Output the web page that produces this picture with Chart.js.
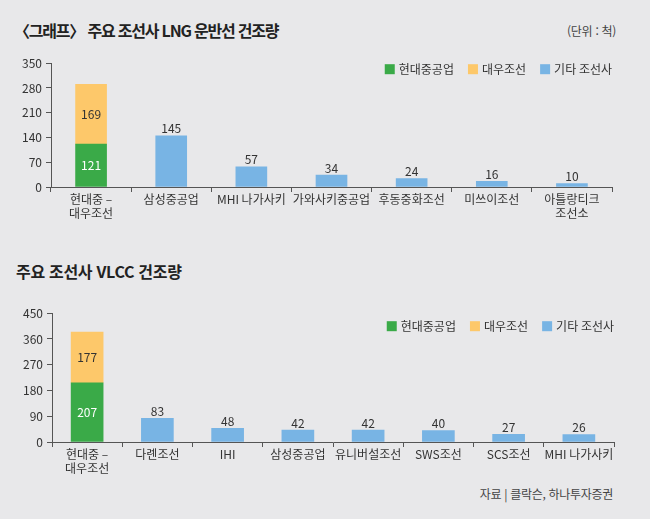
<!DOCTYPE html>
<html lang="ko">
<head>
<meta charset="utf-8">
<script src="https://cdn.jsdelivr.net/npm/chart.js@4.4.1/dist/chart.umd.min.js"></script>
<style>
  html, body { margin: 0; padding: 0; }
  body {
    width: 650px; height: 519px; position: relative; overflow: hidden;
    background: #e8e8ea; color: #333;
    font-family: "Noto Sans CJK KR", "Noto Sans", sans-serif;
  }
  .title { position: absolute; left: 14px; font-size: 16px; font-weight: bold; color: #222; letter-spacing: -1.2px; white-space: nowrap; }
  .note { position: absolute; right: 34px; font-size: 12px; color: #444; white-space: nowrap; letter-spacing: -0.3px; }
  .box { position: absolute; left: 0; width: 650px; }
</style>
</head>
<body>
<div class="title" style="top:18px">〈그래프〉 주요 조선사 LNG 운반선 건조량</div>
<div class="note" style="top:22px">(단위 : 척)</div>
<div class="box" style="top:52px;height:178px"><canvas id="lng"></canvas></div>

<div class="title" style="top:259px;left:16px;letter-spacing:-0.3px">주요 조선사 VLCC 건조량</div>
<div class="box" style="top:302px;height:183px"><canvas id="vlcc"></canvas></div>
<div class="note" style="top:485px;right:37px">자료 | 클락슨, 하나투자증권</div>

<script>
// LNG 운반선
const lngLabels = [['현대중 –', '대우조선'], '삼성중공업', 'MHI 나가사키', '가와사키중공업', '후동중화조선', '미쓰이조선', ['아틀랑티크', '조선소']];
const lngHyundai = [121, null, null, null, null, null, null];
const lngDaewoo = [169, null, null, null, null, null, null];
const lngOthers = [null, 145, 57, 34, 24, 16, 10];
const lngTicks = { max: 350, step: 70 };

// VLCC
const vlccLabels = [['현대중 –', '대우조선'], '다롄조선', 'IHI', '삼성중공업', '유니버설조선', 'SWS조선', 'SCS조선', 'MHI 나가사키'];
const vlccHyundai = [207, null, null, null, null, null, null, null];
const vlccDaewoo = [177, null, null, null, null, null, null, null];
const vlccOthers = [null, 83, 48, 42, 42, 40, 27, 26];
const vlccTicks = { max: 450, step: 90 };

const seriesNames = ['현대중공업', '대우조선', '기타 조선사'];
const GREEN = '#3aaa48', ORANGE = '#fdc86a', BLUE = '#78b4e4';
const FONT = '"Noto Sans CJK KR", "Noto Sans", sans-serif';

// value labels: inside stacked segments, above single bars
const valueLabels = {
    id: 'valueLabels',
    afterDatasetsDraw(chart) {
        const ctx = chart.ctx;
        ctx.save();
        ctx.font = '12px ' + FONT;
        ctx.textAlign = 'center';
        chart.data.datasets.forEach((ds, di) => {
            const meta = chart.getDatasetMeta(di);
            meta.data.forEach((bar, i) => {
                const v = ds.data[i];
                if (v == null) return;
                if (di === 2) {
                    ctx.fillStyle = '#333';
                    ctx.textBaseline = 'bottom';
                    ctx.fillText(v, bar.x, bar.y - 1);
                } else {
                    ctx.fillStyle = di === 0 ? '#fff' : '#333';
                    ctx.textBaseline = 'middle';
                    ctx.fillText(v, bar.x, (bar.y + bar.base) / 2);
                }
            });
        });
        ctx.restore();
    }
};

// one-row legend inside the plot, right aligned
const rowLegend = {
    id: 'rowLegend',
    afterDraw(chart, args, opts) {
        const ctx = chart.ctx;
        const area = chart.chartArea;
        const y = area.top + opts.offset;
        ctx.save();
        ctx.font = '12px ' + FONT;
        ctx.textBaseline = 'middle';
        ctx.textAlign = 'left';
        let x = area.right;
        const items = chart.data.datasets.slice().reverse();
        items.forEach((ds) => {
            const w = ctx.measureText(ds.label).width;
            x -= w;
            ctx.fillStyle = '#333';
            ctx.fillText(ds.label, x, y);
            x -= 4 + 10;
            ctx.fillStyle = ds.backgroundColor;
            ctx.fillRect(x, y - 5, 10, 10);
            x -= 14;
        });
        ctx.restore();
    }
};

function makeChart(id, labels, hyundai, daewoo, others, ticks, cfg) {
    return new Chart(document.getElementById(id), {
        type: 'bar',
        data: {
            labels: labels,
            datasets: [
                { label: seriesNames[0], data: hyundai, backgroundColor: GREEN },
                { label: seriesNames[1], data: daewoo, backgroundColor: ORANGE },
                { label: seriesNames[2], data: others, backgroundColor: BLUE },
            ]
        },
        options: {
            responsive: true,
            maintainAspectRatio: false,
            animation: false,
            barThickness: cfg.bar,
            layout: { padding: { top: 10, right: cfg.right, left: 0, bottom: 0 } },
            scales: {
                x: {
                    stacked: true,
                    grid: { display: true, drawOnChartArea: false, tickLength: 5, color: '#555', offset: true },
                    border: { color: '#555' },
                    ticks: { color: '#333', font: { family: FONT, size: 12 }, padding: 0, maxRotation: 0, autoSkip: false },
                    afterFit: (s) => { s.height = 43; }
                },
                y: {
                    stacked: true,
                    min: 0,
                    max: ticks.max,
                    grid: { display: true, drawOnChartArea: false, tickLength: 5, color: '#555' },
                    border: { color: '#555' },
                    ticks: { stepSize: ticks.step, color: '#333', font: { family: FONT, size: 12 }, padding: 4 },
                    afterFit: (s) => { s.width = cfg.left; }
                }
            },
            plugins: {
                legend: { display: false },
                tooltip: { enabled: false },
                rowLegend: { offset: cfg.legendY }
            }
        },
        plugins: [valueLabels, rowLegend]
    });
}

makeChart('lng', lngLabels, lngHyundai, lngDaewoo, lngOthers, lngTicks, { bar: 31, right: 38, left: 51, legendY: 6 });
makeChart('vlcc', vlccLabels, vlccHyundai, vlccDaewoo, vlccOthers, vlccTicks, { bar: 32, right: 36, left: 52, legendY: 13 });
</script>
</body>
</html>
